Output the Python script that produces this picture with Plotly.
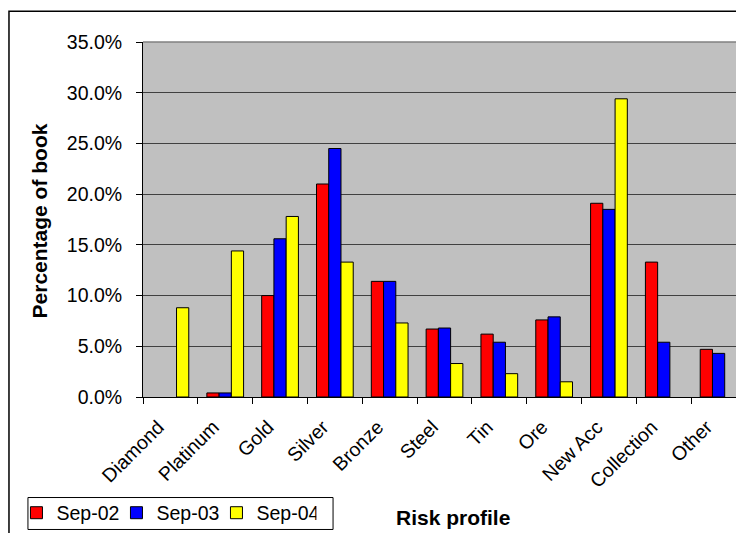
import plotly.graph_objects as go

categories = ["Diamond", "Platinum", "Gold", "Silver", "Bronze", "Steel",
              "Tin", "Ore", "New Acc", "Collection", "Other"]
sep02 = [None, 0.4, 10.0, 21.0, 11.4, 6.7, 6.2, 7.6, 19.1, 13.3, 4.7]
sep03 = [None, 0.4, 15.6, 24.5, 11.4, 6.8, 5.4, 7.9, 18.5, 5.4, 4.3]
sep04 = [8.8, 14.4, 17.8, 13.3, 7.3, 3.3, 2.3, 1.5, 29.4, None, None]
series_names = ["Sep-02", "Sep-03", "Sep-04"]
series_colors = ["#FF0000", "#0000FF", "#FFFF00"]

FONT = "Liberation Sans, Arial, sans-serif"
TICK_SIZE = 19.5
TITLE_SIZE = 21

fig = go.Figure()
for name, vals, col in zip(series_names, [sep02, sep03, sep04], series_colors):
    fig.add_trace(go.Bar(
        x=categories, y=vals, name=name,
        marker=dict(color=col, line=dict(color="black", width=1)),
    ))

# page offset caused by the default body margin
OFF = 8
W, H = 744, 533
# plot area in page pixel coordinates
PL, PT, PR, PB = 142.7, 41.7, 746.5, 397.3
L = PL - OFF
T = PT - OFF
R = W - (PR - OFF)
B = H - (PB - OFF)
pw, ph = PR - PL, PB - PT


def px(x):
    return (x - PL) / pw


def py(y):
    return (PB - y) / ph


fig.update_layout(
    width=W, height=H,
    margin=dict(l=L, r=R, t=T, b=B, pad=0, autoexpand=False),
    paper_bgcolor="white",
    plot_bgcolor="#C0C0C0",
    barmode="group",
    bargap=0.33,
    bargroupgap=0,
    font=dict(family=FONT, size=TICK_SIZE, color="black"),
    showlegend=True,
    legend=dict(
        orientation="h",
        x=px(16), xanchor="left",
        y=py(494), yanchor="top",
        borderwidth=0,
        bgcolor="rgba(0,0,0,0)",
        font=dict(family=FONT, size=TICK_SIZE, color="black"),
        itemwidth=30,
        entrywidth=55, entrywidthmode="pixels",
        tracegroupgap=0,
    ),
    xaxis=dict(
        range=[-0.5, 10.5],
        tickson="boundaries",
        ticks="outside", ticklen=6, tickcolor="black", tickwidth=1,
        showline=True, linecolor="black", linewidth=1,
        showgrid=False,
        tickangle=-45,
        ticklabelstandoff=10,
        ticklabelshift=-12,
        tickfont=dict(family=FONT, size=TICK_SIZE),
        automargin=False,
        fixedrange=True,
    ),
    yaxis=dict(
        range=[0, 35], dtick=5,
        tickformat=".1f", ticksuffix="%",
        ticks="outside", ticklen=6, tickcolor="black", tickwidth=1,
        showline=True, linecolor="black", linewidth=1,
        showgrid=True, gridcolor="#404040", gridwidth=1,
        zeroline=False,
        ticklabelstandoff=10,
        tickfont=dict(family=FONT, size=TICK_SIZE),
        automargin=False,
        fixedrange=True,
    ),
    annotations=[
        dict(text="<b>Percentage of book</b>", xref="paper", yref="paper",
             x=px(40), y=py(221), textangle=-90, showarrow=False,
             font=dict(family=FONT, size=TITLE_SIZE, color="black"),
             xanchor="center", yanchor="middle"),
        dict(text="<b>Risk profile</b>", xref="paper", yref="paper",
             x=px(453), y=py(518), showarrow=False,
             font=dict(family=FONT, size=TITLE_SIZE, color="black"),
             xanchor="center", yanchor="middle"),
    ],
    shapes=[
        dict(type="line", xref="paper", yref="paper", x0=0, x1=1, y0=1, y1=1,
             line=dict(color="#808080", width=1.5)),
        dict(type="rect", xref="paper", yref="paper",
             x0=px(8.5), x1=px(780), y0=py(560), y1=py(11),
             line=dict(color="black", width=1.5), fillcolor="rgba(0,0,0,0)",
             layer="below"),
        dict(type="rect", xref="paper", yref="paper",
             x0=px(27.5), x1=px(333), y0=py(530), y1=py(498),
             line=dict(color="black", width=1), fillcolor="rgba(0,0,0,0)",
             layer="below"),
    ],
)

fig.write_html("out.html")
